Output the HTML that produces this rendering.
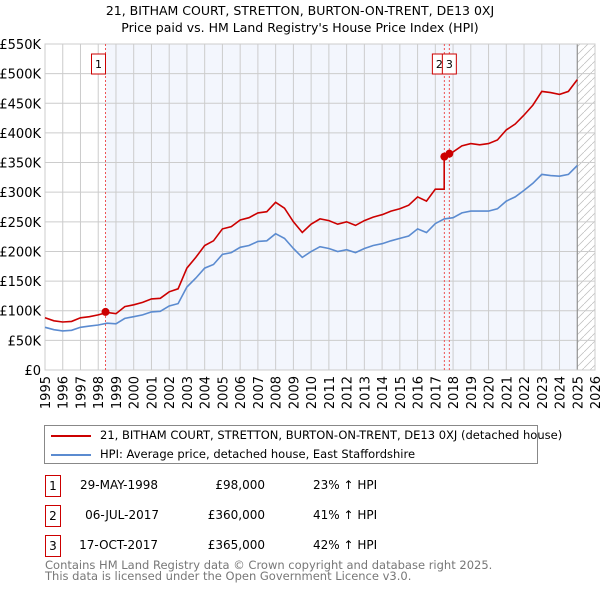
<!DOCTYPE html>
<html><head><meta charset="utf-8"><style>
body{margin:0;width:600px;height:590px;background:#fff;font-family:"DejaVu Sans","Liberation Sans",sans-serif;overflow:hidden;position:relative}
.t{position:absolute;font-size:12px;color:#000;white-space:nowrap}
.nb{position:absolute;left:45px;width:14px;height:20px;border:1px solid #c00;font-size:12px;text-align:center;line-height:20px}
</style></head><body>
<div class="t" style="left:0;width:600px;text-align:center;top:3px;font-size:12.5px">21, BITHAM COURT, STRETTON, BURTON-ON-TRENT, DE13 0XJ</div>
<div class="t" style="left:0;width:600px;text-align:center;top:20px;font-size:12.5px">Price paid vs. HM Land Registry's House Price Index (HPI)</div>
<svg id="chart" width="600" height="420" style="position:absolute;left:0;top:0;font-family:'DejaVu Sans',sans-serif"></svg>
<div style="position:absolute;left:44px;top:425px;width:492px;height:37px;border:1px solid #888">
 <div style="position:absolute;left:6px;top:9px;width:40px;height:2px;background:#c00"></div>
 <div class="t" style="left:55px;top:2px;font-size:11.5px">21, BITHAM COURT, STRETTON, BURTON-ON-TRENT, DE13 0XJ (detached house)</div>
 <div style="position:absolute;left:6px;top:28px;width:40px;height:2px;background:#5b8bd0"></div>
 <div class="t" style="left:55px;top:21px;font-size:11.5px">HPI: Average price, detached house, East Staffordshire</div>
</div>
<div class="nb" style="top:475px">1</div>
<div class="t" style="left:70px;width:88px;text-align:right;top:478px">29-MAY-1998</div>
<div class="t" style="left:190px;width:75px;text-align:right;top:478px">£98,000</div>
<div class="t" style="left:313px;top:478px">23% ↑ HPI</div>
<div class="nb" style="top:505px">2</div>
<div class="t" style="left:70px;width:89px;text-align:right;top:508px">06-JUL-2017</div>
<div class="t" style="left:190px;width:75px;text-align:right;top:508px">£360,000</div>
<div class="t" style="left:313px;top:508px">41% ↑ HPI</div>
<div class="nb" style="top:535px">3</div>
<div class="t" style="left:70px;width:88px;text-align:right;top:538px">17-OCT-2017</div>
<div class="t" style="left:190px;width:75px;text-align:right;top:538px">£365,000</div>
<div class="t" style="left:313px;top:538px">42% ↑ HPI</div>
<div class="t" style="left:45px;top:560px;color:#777;line-height:11px;font-size:11.5px">Contains HM Land Registry data © Crown copyright and database right 2025.<br>This data is licensed under the Open Government Licence v3.0.</div>
<script>
const yTicks=[0,50,100,150,200,250,300,350,400,450,500,550];
const yTickLabels=["£0","£50K","£100K","£150K","£200K","£250K","£300K","£350K","£400K","£450K","£500K","£550K"];
const xYears=[1995,1996,1997,1998,1999,2000,2001,2002,2003,2004,2005,2006,2007,2008,2009,2010,2011,2012,2013,2014,2015,2016,2017,2018,2019,2020,2021,2022,2023,2024,2025,2026];
const hpiStart=1995, hpiStep=0.5;
const hpiValues=[72,68,66,67,72,74,76,79,78,87,90,93,98,99,108,112,140,155,172,178,195,198,207,210,217,218,230,222,205,190,200,208,205,200,203,198,205,210,213,218,222,226,238,232,247,255,257,265,268,268,268,272,285,292,303,315,330,328,327,330,345];
const priceValues=[88,83,81,82,88,90,93,97,95,107,110,114,120,121,132,137,172,190,210,218,238,242,253,257,265,267,283,273,250,232,246,255,252,246,250,244,252,258,262,268,272,278,292,285,305,360,368,378,382,380,382,388,405,415,430,447,470,468,465,470,490];
const stepDate=2017.5, stepFrom=305;
const saleDates=[1998.41,2017.51,2017.79];
const salePrices=[98,360,365];
const saleLabels=["1","2","3"];
const NS="http://www.w3.org/2000/svg";
const svg=document.getElementById('chart');
const L=45,R=595,T=44,B=370,X0=1995,X1=2026,YM=550;
const sx=v=>L+(v-X0)/(X1-X0)*(R-L);
const sy=v=>B-v/YM*(B-T);
function mk(tag,at){const e=document.createElementNS(NS,tag);for(const k in at)e.setAttribute(k,at[k]);svg.appendChild(e);return e;}
let e=mk('rect',{x:sx(saleDates[0]),y:T,width:sx(2025)-sx(saleDates[0]),height:B-T,fill:'#f3f6fd'});


const defs=mk('defs',{});
defs.innerHTML='<pattern id="h" width="8" height="8" patternUnits="userSpaceOnUse"><path d="M0 8L8 0" stroke="#bbb" stroke-width="0.7"/></pattern>';
e=mk('rect',{x:sx(2025),y:T,width:R-sx(2025),height:B-T,fill:'url(#h)'});


yTicks.forEach((v,i)=>{
 let g=mk('line',{x1:L,x2:R,y1:sy(v),y2:sy(v),stroke:'#ccc','stroke-width':1});
 
 
 let t=mk('text',{x:L-4,y:sy(v)+5,'text-anchor':'end','font-size':13,fill:'#000'});
 t.textContent=yTickLabels[i];
 
 
});
xYears.forEach(yr=>{
 let g=mk('line',{x1:sx(yr),x2:sx(yr),y1:T,y2:B,stroke:'#ccc','stroke-width':1});
 
 
 let t=mk('text',{x:0,y:0,'text-anchor':'end','font-size':13,fill:'#000',transform:`translate(${sx(yr)+5},${B+6}) rotate(-90)`});
 t.textContent=yr;
 
 
});
e=mk('line',{x1:sx(2025),x2:sx(2025),y1:T,y2:B,stroke:'#888','stroke-width':1});


e=mk('rect',{x:L,y:T,width:R-L,height:B-T,fill:'none',stroke:'#ccc'});


saleDates.forEach((d,i)=>{
 let l=mk('line',{x1:sx(d),x2:sx(d),y1:T,y2:B,stroke:'#e55','stroke-width':1,'stroke-dasharray':'2,2'});
 
 
});
function path(vals,color,name,step){
 let d='';
 vals.forEach((v,i)=>{
  const yr=hpiStart+i*hpiStep;
  if(step&&Math.abs(yr-step[0])<1e-6&&i>0){d+='L'+sx(yr).toFixed(1)+' '+sy(step[1]).toFixed(1)+' ';}
  d+=(i?'L':'M')+sx(yr).toFixed(1)+' '+sy(v).toFixed(1)+' ';
 });
 const p=mk('path',{d:d,fill:'none',stroke:color,'stroke-width':1.6});
 
 
}
path(hpiValues,'#5b8bd0','hpi-line');
path(priceValues,'#c00','price-line',[stepDate,stepFrom]);
saleDates.forEach((d,i)=>{
 let c=mk('circle',{cx:sx(d),cy:sy(salePrices[i]),r:4,fill:'#c00'});
 
 
});
[[0,sx(saleDates[0])-14],[1,sx(saleDates[1])-12],[2,sx(saleDates[2])-7]].forEach(([i,x])=>{
 let r=mk('rect',{x:x,y:54,width:14,height:20,fill:'#fff',stroke:'#c00'});
 
 
 let t=mk('text',{x:x+7,y:68,'text-anchor':'middle','font-size':11,fill:'#000'});
 t.textContent=saleLabels[i];
 
 
});
</script>
</body></html>
